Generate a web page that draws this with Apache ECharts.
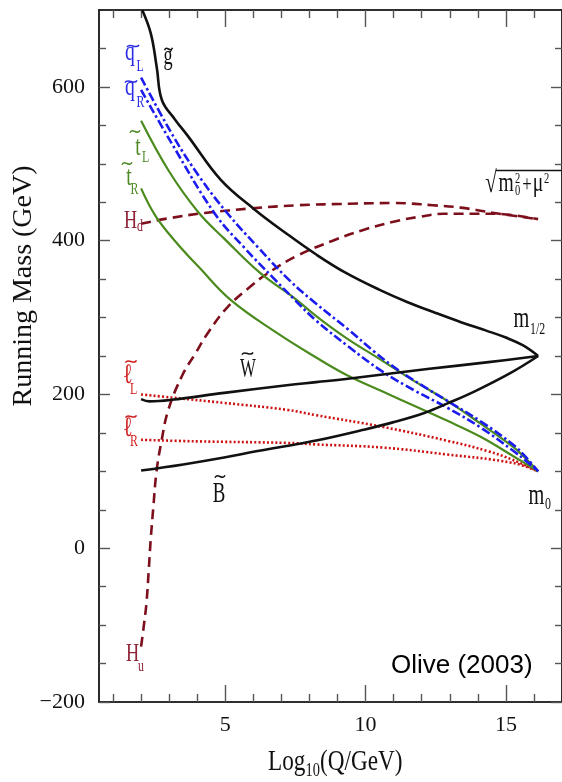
<!DOCTYPE html>
<html>
<head>
<meta charset="utf-8">
<title>Running masses</title>
<script src="https://cdn.jsdelivr.net/npm/echarts@6.0.0/dist/echarts.min.js"></script>
<style>
  html, body { margin: 0; padding: 0; background: #ffffff; }
  #chart { width: 562px; height: 782px; }
</style>
</head>
<body>
<div id="chart"></div>
<script>
// Tick positions: log10(Q/GeV) and mass (GeV)
const xMajorTicks = [5, 10, 15];
const xMinorTicks = [1, 2, 3, 4, 6, 7, 8, 9, 11, 12, 13, 14, 16];
const yMajorTicks = [-200, 0, 200, 400, 600];
const yMinorTicks = [-150, -100, -50, 50, 100, 150, 250, 300, 350, 450, 500, 550, 650];

// Running masses, [log10(Q/GeV), mass in GeV]
const gluino = [[2.04,700],[2.35,669],[2.56,625],[2.74,583],[3.2,558],[3.69,535],[4.84,479],[6.03,441],[7.19,409],[8.24,382],[9.3,358],[10.5,336],[11.5,320],[12.5,306],[13.4,294],[14.3,283],[15.0,274],[15.6,264],[16.15,250]];
const squarkL = [[2.0,612],[3.16,535],[4.1,482],[5.09,435],[6.2,390],[7.3,348],[8.24,318],[9.4,284],[10.3,256],[11.15,232],[12.0,212],[12.9,192],[14.1,165],[15.25,135],[15.7,119],[16.15,100]];
const squarkR = [[2.0,596],[3.1,526],[4.63,435],[5.7,390],[6.7,352],[7.5,322],[8.24,296],[9.4,262],[10.59,230],[11.75,205],[12.9,183],[14.1,157],[15.25,127],[15.7,114],[16.15,100]];
const stopL = [[2.0,556],[3.0,490],[4.04,437],[4.98,402],[6.24,358],[7.44,326],[8.24,302],[9.29,274],[10.59,244],[11.75,217],[12.9,192],[14.1,162],[15.25,132],[15.7,117],[16.15,100]];
const stopR = [[2.0,468],[2.5,433],[3.2,400],[4.1,364],[5.19,323],[6.84,280],[8.24,248],[9.29,226],[10.59,204],[11.75,185],[12.9,166],[14.1,145],[15.25,120],[16.15,100]];
const wino = [[2.0,194],[2.3,191],[3.08,193],[4.96,202],[7.19,212],[8.24,216],[9.3,220],[12.2,233],[14.38,242],[16.15,250]];
const bino = [[2.0,101],[3.5,109],[4.96,118],[6.1,126],[7.19,133],[8.24,140],[9.92,154],[11.0,164],[12.09,176],[12.9,188],[13.89,204],[15.17,228],[16.15,250]];
const sleptonL = [[2.0,200],[3.08,196],[4.96,189],[7.19,180],[8.24,173],[10.58,158],[12.89,140],[14.38,126],[15.24,115],[16.15,100]];
const sleptonR = [[2.0,141],[3.97,139],[7.19,137],[8.24,135],[10.58,131],[12.89,122],[15.24,111],[16.15,100]];
const higgsU = [[2.0,-128],[2.1,-100],[2.19,-72],[2.27,-30],[2.34,10],[2.44,55],[2.55,100],[2.73,140],[2.97,180],[3.47,225],[3.93,253],[4.38,280],[5.09,314],[5.95,342],[6.49,357],[7.54,380],[8.83,400],[9.92,414],[11.04,425],[11.9,431],[12.79,435],[14.58,435],[16.15,428]];
const higgsD = [[2.0,422],[2.97,429],[4.27,436],[5.95,442],[7.54,446],[9.42,448],[11.04,449],[12.4,446],[13.39,443],[14.58,436],[16.15,428]];

const SERIF = '"Liberation Serif", "DejaVu Serif", serif';
const BLACK = '#111111';
const BLUE = '#1c1cf0';
const GREEN = '#4b8b1e';
const RED = '#cc1111';
const DARKRED = '#7d0f1c';
const LBLUE = '#2a2ae6';
const LGREEN = '#4d8a24';
const LRED = '#cf1c1c';
const LHIGGS = '#8e2236';

function xAxisDef(position, ticks, len, withLabels) {
  return {
    type: 'value', min: 0.5, max: 17, position: position,
    axisLine: { show: true, onZero: false, lineStyle: { color: '#222', width: 1.6 } },
    axisTick: { show: true, inside: true, length: len, customValues: ticks, lineStyle: { color: '#555', width: 1.4 } },
    axisLabel: withLabels
      ? { show: true, customValues: ticks, margin: 12, color: '#111', fontFamily: SERIF, fontSize: 22 }
      : { show: false },
    splitLine: { show: false },
    minorTick: { show: false }
  };
}
function yAxisDef(position, ticks, len, withLabels) {
  return {
    type: 'value', min: -200, max: 700, position: position,
    axisLine: { show: true, onZero: false, lineStyle: { color: '#222', width: 1.6 } },
    axisTick: { show: true, inside: true, length: len, customValues: ticks, lineStyle: { color: '#555', width: 1.4 } },
    axisLabel: withLabels
      ? { show: true, customValues: ticks, margin: 14, color: '#111', fontFamily: SERIF, fontSize: 22,
          formatter: v => (v < 0 ? '\u2212' + Math.abs(v) : String(v)) }
      : { show: false },
    splitLine: { show: false },
    minorTick: { show: false }
  };
}

function curve(name, data, color, width, dash, z) {
  return {
    name: name, type: 'line', data: data, xAxisIndex: 0, yAxisIndex: 0,
    showSymbol: false, symbol: 'none', smooth: 0.4, clip: true,
    lineStyle: { color: color, width: width, type: dash || 'solid', cap: 'butt', join: 'round' },
    emphasis: { disabled: true }, silent: true, z: z || 2
  };
}

// text helper: horizontally condensed serif glyphs
function txt(x, y, s, size, color, align, sx, rot, family) {
  const a = align || 'center';
  return {
    type: 'text', x: x, y: y, rotation: rot || 0, scaleX: sx == null ? 0.7 : sx, silent: true, z: 100,
    style: {
      text: s, font: size + 'px ' + (family || SERIF), fill: color,
      textAlign: a, align: a, textVerticalAlign: 'middle', verticalAlign: 'middle'
    }
  };
}
// accent tilde drawn as a small wave
function tilde(cx, cy, w, color) {
  return {
    type: 'bezierCurve', silent: true, z: 100,
    shape: { x1: cx - w / 2, y1: cy + 1.2, cpx1: cx - w / 4, cpy1: cy - 4.5, cpx2: cx + w / 4, cpy2: cy + 4.5, x2: cx + w / 2, y2: cy - 1.2 },
    style: { stroke: color, lineWidth: 1.5, fill: null }
  };
}

const labels = [
  // gluino
  tilde(168.5, 49, 8, BLACK), txt(168, 57, 'g', 28, BLACK, 'center', 0.65),
  // squarks
  tilde(133, 46, 12, LBLUE), txt(130, 53, 'q', 28, LBLUE), txt(136.5, 66.6, 'L', 17, LBLUE, 'left'),
  tilde(131, 81.5, 12, LBLUE), txt(130, 88, 'q', 28, LBLUE), txt(136.5, 102.6, 'R', 17, LBLUE, 'left'),
  // stops
  tilde(135, 131.5, 10, LGREEN), txt(138, 148, 't', 28, LGREEN), txt(142, 157.6, 'L', 17, LGREEN, 'left'),
  tilde(127, 163.5, 10, LGREEN), txt(129, 178, 't', 28, LGREEN), txt(130.5, 189.6, 'R', 17, LGREEN, 'left'),
  // Higgs
  txt(130.5, 221.5, 'H', 26, LHIGGS), txt(137, 227, 'd', 17, LHIGGS, 'left'),
  txt(132.5, 654.5, 'H', 26, LHIGGS), txt(138, 666.6, 'u', 17, LHIGGS, 'left'),
  // sleptons
  tilde(131, 361.5, 11, LRED), txt(128, 376, '\u2113', 28, LRED), txt(130, 389.6, 'L', 17, LRED, 'left'),
  tilde(131, 416.5, 11, LRED), txt(128, 429, '\u2113', 28, LRED), txt(130, 441.6, 'R', 17, LRED, 'left'),
  // gauginos
  tilde(247.5, 353.5, 11, BLACK), txt(248, 370, 'W', 28, BLACK, 'center', 0.6),
  tilde(220, 476.5, 10, BLACK), txt(219, 494, 'B', 29, BLACK, 'center', 0.65),
  // boundary values
  txt(521.5, 319, 'm', 29, BLACK), txt(530, 329.6, '1/2', 17, BLACK, 'left'),
  txt(536.5, 496, 'm', 29, BLACK), txt(545, 504.6, '0', 17, BLACK, 'left'),
  // sqrt(m0^2 + mu^2)
  txt(491, 184, '\u221A', 30, BLACK),
  { type: 'line', silent: true, z: 100, shape: { x1: 496, y1: 170.5, x2: 561, y2: 170.5 }, style: { stroke: BLACK, lineWidth: 1.3 } },
  txt(506, 184, 'm', 28, BLACK), txt(515, 179, '2', 15, BLACK, 'left'), txt(515, 191, '0', 15, BLACK, 'left'),
  txt(527, 185, '+', 24, BLACK), txt(538, 184, '\u03BC', 28, BLACK), txt(544, 179, '2', 15, BLACK, 'left'),
  // credit
  txt(391, 666, 'Olive (2003)', 26, '#000', 'left', 1, 0, '"Liberation Sans", Arial, sans-serif'),
  // axis titles
  txt(24, 286, 'Running Mass (GeV)', 28, BLACK, 'center', 1, Math.PI / 2),
  txt(268, 762, 'Log', 29, BLACK, 'left', 0.8), txt(305.5, 771, '10', 18, BLACK, 'left', 0.8),
  txt(320, 762, '(Q/GeV)', 29, BLACK, 'left', 0.8)
];

const chart = echarts.init(document.getElementById('chart'), null, { renderer: 'canvas' });
chart.setOption({
  backgroundColor: '#ffffff',
  animation: false,
  grid: { left: 99, top: 10, width: 471, height: 692, containLabel: false },
  xAxis: [
    xAxisDef('bottom', xMajorTicks, 17, true),
    xAxisDef('bottom', xMinorTicks, 8, false),
    xAxisDef('top', xMajorTicks, 17, false),
    xAxisDef('top', xMinorTicks, 8, false)
  ],
  yAxis: [
    yAxisDef('left', yMajorTicks, 11, true),
    yAxisDef('left', yMinorTicks, 7, false),
    yAxisDef('right', yMajorTicks, 11, false),
    yAxisDef('right', yMinorTicks, 7, false)
  ],
  series: [
    curve('H_u', higgsU, DARKRED, 2.6, [10, 6], 2),
    curve('H_d', higgsD, DARKRED, 2.6, [10, 6], 2),
    curve('slepton_R', sleptonR, RED, 2.6, [2, 2.2], 3),
    curve('slepton_L', sleptonL, RED, 2.6, [2, 2.2], 3),
    curve('stop_R', stopR, GREEN, 2.2, 'solid', 4),
    curve('stop_L', stopL, GREEN, 2.2, 'solid', 4),
    curve('squark_R', squarkR, BLUE, 2.6, [9, 3, 2.5, 3], 5),
    curve('squark_L', squarkL, BLUE, 2.6, [9, 3, 2.5, 3], 5),
    curve('bino', bino, BLACK, 2.6, 'solid', 6),
    curve('wino', wino, BLACK, 2.6, 'solid', 6),
    curve('gluino', gluino, BLACK, 2.6, 'solid', 6)
  ],
  graphic: { elements: labels }
});
</script>
</body>
</html>
